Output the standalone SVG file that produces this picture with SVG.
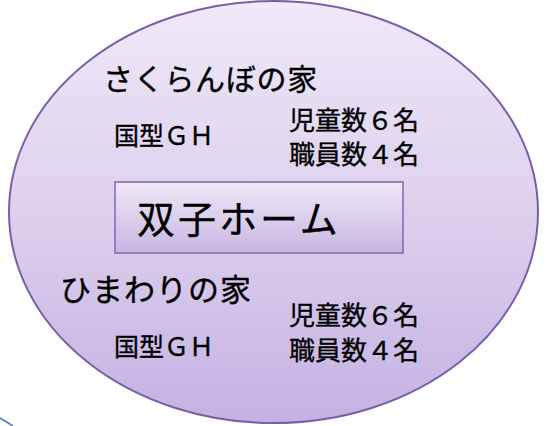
<svg xmlns="http://www.w3.org/2000/svg" width="546" height="426" viewBox="0 0 546 426">
<defs>
<linearGradient id="gEl" x1="0" y1="0" x2="0" y2="1">
<stop offset="0" stop-color="#efe9f8"/>
<stop offset="0.5" stop-color="#ddd0ee"/>
<stop offset="1" stop-color="#c4b2e2"/>
</linearGradient>
<linearGradient id="gRect" x1="0" y1="0" x2="0" y2="1">
<stop offset="0" stop-color="#eee8f7"/>
<stop offset="1" stop-color="#c8b6e2"/>
</linearGradient>
<style>
.t{font-family:"Noto Sans CJK JP","Noto Sans CJK SC",sans-serif;fill:#000;stroke:#000;stroke-width:0.35;}
</style>
</defs>
<g id="connectors">
<line x1="0" y1="418" x2="13" y2="426" stroke="#4a7ebb" stroke-width="1.5"/>
</g>
<g id="outer">
<ellipse cx="273.5" cy="212" rx="264.5" ry="211" fill="url(#gEl)" stroke="#7b5ea6" stroke-width="2"/>
</g>
<g id="sakuranbo">
<text class="t" x="103" y="90" font-size="30" letter-spacing="0.7">さくらんぼの家</text>
<text class="t" x="114" y="145" font-size="25">国型ＧＨ</text>
<text class="t" font-size="26"><tspan x="289" y="130">児童数６名</tspan><tspan x="289" y="164">職員数４名</tspan></text>
</g>
<g id="futago">
<rect x="115" y="182" width="288" height="71" fill="url(#gRect)" stroke="#8466ad" stroke-width="1.5"/>
<text class="t" x="137" y="233" font-size="38" letter-spacing="3">双子ホーム</text>
</g>
<g id="himawari">
<text class="t" x="60" y="301" font-size="31" letter-spacing="1">ひまわりの家</text>
<text class="t" x="114" y="356" font-size="25">国型ＧＨ</text>
<text class="t" font-size="26"><tspan x="289" y="325">児童数６名</tspan><tspan x="289" y="360">職員数４名</tspan></text>
</g>
</svg>
